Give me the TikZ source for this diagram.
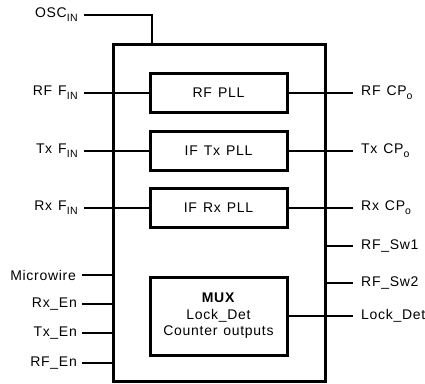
\documentclass[tikz,border=0pt]{standalone}
\usepackage{fontspec}
\setmainfont[LetterSpace=5,WordSpace=1.3]{Liberation Sans}
\usetikzlibrary{positioning}

\newcommand{\lowsub}[1]{\raisebox{-0.55ex}{\fontsize{10.5}{12}\selectfont #1}}

\tikzset{
  chipbox/.style={draw, line width=3pt, minimum width=212pt, minimum height=337pt, inner sep=0pt},
  blk/.style={draw, line width=3pt, minimum width=137pt, minimum height=39pt, inner sep=0pt,
    font=\fontsize{14}{16.5}\selectfont},
  wire/.style={line width=2pt},
  pin/.style={inner sep=0pt, font=\fontsize{14}{16.5}\selectfont}
}

\begin{document}
\begin{tikzpicture}[x=1pt,y=-1pt]
  \useasboundingbox (0,0) rectangle (425,383);
  % chip outline and inner blocks
  \node[chipbox] (chip) at (219,212.5) {};
  \node[blk] (rfpll) at (218.5,93) {RF PLL};
  \node[blk] (txpll) at (218.5,151) {IF Tx PLL};
  \node[blk] (rxpll) at (218.5,208) {IF Rx PLL};
  \node[blk, minimum height=78pt, align=center] (mux) at (218.5,316)
    {\textbf{MUX}\\Lock\_Det\\Counter outputs};

  % left pins
  \coordinate (oscin) at (84,15);
  \coordinate (rffin) at (84,93);
  \coordinate (txfin) at (84,151);
  \coordinate (rxfin) at (84,208);
  \coordinate (uwire) at (82,275);
  \coordinate (rxen) at (82,304);
  \coordinate (txen) at (82,333);
  \coordinate (rfen) at (82,363);
  \node[pin, left=6pt of oscin] (oscinlbl) {OSC\lowsub{IN}};
  \node[pin, left=6pt of rffin] (rffinlbl) {RF F\lowsub{IN}};
  \node[pin, left=6pt of txfin] (txfinlbl) {Tx F\lowsub{IN}};
  \node[pin, left=6pt of rxfin] (rxfinlbl) {Rx F\lowsub{IN}};
  \node[pin, left=6pt of uwire] (uwirelbl) {Microwire};
  \node[pin, left=5pt of rxen] (rxenlbl) {Rx\_En};
  \node[pin, left=5pt of txen] (txenlbl) {Tx\_En};
  \node[pin, left=5pt of rfen] (rfenlbl) {RF\_En};
  \draw[wire] (oscin) -| (152,0 |- chip.north);
  \draw[wire] (rffin) -- (rfpll.west);
  \draw[wire] (txfin) -- (txpll.west);
  \draw[wire] (rxfin) -- (rxpll.west);
  \foreach \p in {uwire,rxen,txen,rfen}
    \draw[wire] (\p) -- (\p -| chip.west);

  % right pins
  \coordinate (rfcp) at (353,93);
  \coordinate (txcp) at (353,151);
  \coordinate (rxcp) at (353,208);
  \coordinate (sw1) at (353,246);
  \coordinate (sw2) at (353,283);
  \coordinate (ld) at (353,316);
  \node[pin, right=8pt of rfcp] (rfcplbl) {RF CP\lowsub{o}};
  \node[pin, right=8pt of txcp] (txcplbl) {Tx CP\lowsub{o}};
  \node[pin, right=8pt of rxcp] (rxcplbl) {Rx CP\lowsub{o}};
  \node[pin, right=8pt of sw1] (sw1lbl) {RF\_Sw1};
  \node[pin, right=8pt of sw2] (sw2lbl) {RF\_Sw2};
  \node[pin, right=8pt of ld] (ldlbl) {Lock\_Det};
  \draw[wire] (rfpll.east) -- (rfcp);
  \draw[wire] (txpll.east) -- (txcp);
  \draw[wire] (rxpll.east) -- (rxcp);
  \draw[wire] (mux.east) -- (ld);
  \foreach \p in {sw1,sw2}
    \draw[wire] (\p -| chip.east) -- (\p);
\end{tikzpicture}
\end{document}
